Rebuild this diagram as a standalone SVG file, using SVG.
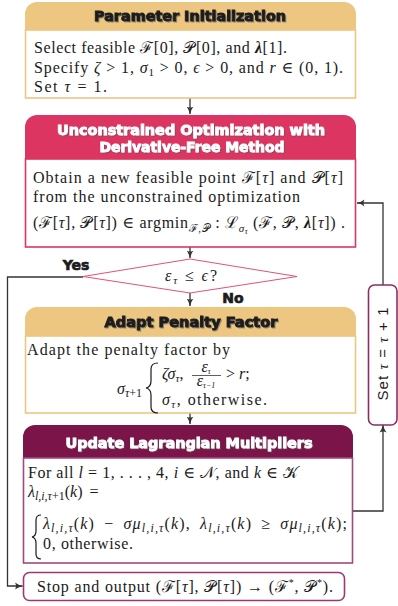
<svg xmlns="http://www.w3.org/2000/svg" width="398" height="606" viewBox="0 0 398 606">
<defs>
<style>
.title{font-family:"DejaVu Sans","Liberation Sans",sans-serif;font-weight:bold;font-size:14px;stroke-width:0.9px;text-anchor:middle}
.dk{fill:#1c1c1c;stroke:#1c1c1c}
.wt{fill:#ffffff;stroke:#ffffff}
.body{font-family:"Liberation Serif","DejaVu Serif",serif;font-size:16px;fill:#1a1a1a}
.it{font-style:italic}
.cal{font-style:normal}
.sub{font-size:11px}
.sub2{font-size:12px}
.conn{fill:none;stroke:#333333;stroke-width:1.3}
.lbl{font-family:"DejaVu Sans","Liberation Sans",sans-serif;font-weight:bold;font-size:14px;fill:#1c1c1c;stroke:#1c1c1c;stroke-width:0.7px}
.bodyrect{fill:#ffffff;stroke-width:1.6}
</style>
<filter id="sh" x="-5%" y="-30%" width="110%" height="160%">
<feDropShadow dx="1" dy="1" stdDeviation="0.6" flood-color="#555555" flood-opacity="0.6"/>
</filter>
<marker id="ah" viewBox="0 0 8 8" refX="7.5" refY="4" markerWidth="8" markerHeight="8" markerUnits="userSpaceOnUse" orient="auto">
<path d="M0,0.5 Q3,3 8,4 Q3,5 0,7.5 Q2,4 0,0.5 Z" fill="#333333"/>
</marker>
</defs>

<g id="connectors">
<path class="conn" d="M190 98 V114" marker-end="url(#ah)"/>
<path class="conn" d="M190 247 V258" marker-end="url(#ah)"/>
<path class="conn" d="M190 293 V306" marker-end="url(#ah)"/>
<path class="conn" d="M190 413 V424" marker-end="url(#ah)"/>
<path class="conn" d="M83 277 H7.5 V586 H22.5" marker-end="url(#ah)"/>
<path class="conn" d="M353 511 H383 V425" marker-end="url(#ah)"/>
<path class="conn" d="M383 285 V203 H357" marker-end="url(#ah)"/>
<text class="lbl" x="76" y="270" text-anchor="middle">Yes</text>
<text class="lbl" x="233" y="303" text-anchor="middle">No</text>
</g>

<g id="init">
<path d="M25 30 V14 A12 12 0 0 1 37 2 H344 A12 12 0 0 1 356 14 V30 Z" fill="#EDC682"/>
<rect class="bodyrect" x="25.5" y="30" width="330" height="68" stroke="#EDC682"/>
<text class="title dk" x="190" y="21" textLength="192" lengthAdjust="spacingAndGlyphs" filter="url(#sh)">Parameter Initialization</text>
<text class="body" x="34" y="53" textLength="253" lengthAdjust="spacing">Select feasible <tspan class="cal">ℱ</tspan>[0], <tspan class="cal">𝒫</tspan>[0], and <tspan font-weight="bold" class="it">λ</tspan>[1].</text>
<text class="body" x="34" y="73" textLength="309" lengthAdjust="spacing">Specify <tspan class="it">ζ</tspan> &gt; 1, <tspan class="it">σ</tspan><tspan class="sub" baseline-shift="-3">1</tspan> &gt; 0, <tspan class="it">ϵ</tspan> &gt; 0, and <tspan class="it">r</tspan> ∈ (0, 1).</text>
<text class="body" x="34" y="92" textLength="73" lengthAdjust="spacing">Set <tspan class="it">τ</tspan> = 1.</text>
</g>

<g id="unconstrained">
<path d="M25 159 V127 A12 12 0 0 1 37 115 H344 A12 12 0 0 1 356 127 V159 Z" fill="#DD3562"/>
<rect class="bodyrect" x="25.5" y="159" width="330" height="88" stroke="#DD3562"/>
<text class="title wt" x="191" y="135" textLength="268" lengthAdjust="spacingAndGlyphs" filter="url(#sh)">Unconstrained Optimization with</text>
<text class="title wt" x="192" y="152" textLength="185" lengthAdjust="spacingAndGlyphs" filter="url(#sh)">Derivative-Free Method</text>
<text class="body" x="33" y="183" textLength="310" lengthAdjust="spacing">Obtain a new feasible point <tspan class="cal">ℱ</tspan>[<tspan class="it">τ</tspan>] and <tspan class="cal">𝒫</tspan>[<tspan class="it">τ</tspan>]</text>
<text class="body" x="33" y="202" textLength="267" lengthAdjust="spacing">from the unconstrained optimization</text>
<text class="body" x="33" y="228" textLength="312" lengthAdjust="spacing">(<tspan class="cal">ℱ</tspan>[<tspan class="it">τ</tspan>], <tspan class="cal">𝒫</tspan>[<tspan class="it">τ</tspan>]) ∈ argmin<tspan class="sub cal" baseline-shift="-4">ℱ,𝒫</tspan> :  <tspan class="cal">ℒ</tspan><tspan class="sub it" baseline-shift="-4">σ</tspan><tspan font-size="8px" class="it" baseline-shift="-6">τ</tspan> (<tspan class="cal">ℱ</tspan>, <tspan class="cal">𝒫</tspan>, <tspan font-weight="bold" class="it">λ</tspan>[<tspan class="it">τ</tspan>]) .</text>
</g>

<g id="decision">
<polygon points="190,259 297,276.5 190,293 83,276.5" fill="#ffffff" stroke="#E3507A" stroke-width="1"/>
<text class="body" x="165" y="281" textLength="52" lengthAdjust="spacing"><tspan class="it">ε</tspan><tspan class="sub it" baseline-shift="-3">τ</tspan> ≤ <tspan class="it">ϵ</tspan>?</text>
</g>

<g id="penalty">
<path d="M25 336 V319 A12 12 0 0 1 37 307 H344 A12 12 0 0 1 356 319 V336 Z" fill="#EDC682"/>
<rect class="bodyrect" x="25.5" y="336" width="330" height="77" stroke="#EDC682"/>
<text class="title dk" x="191" y="327" textLength="173" lengthAdjust="spacingAndGlyphs" filter="url(#sh)">Adapt Penalty Factor</text>
<text class="body" x="27" y="355" textLength="203" lengthAdjust="spacing">Adapt the penalty factor by</text>
<text class="body" x="142" y="394" font-size="17px" text-anchor="end"><tspan class="it">σ</tspan><tspan class="sub2 it" baseline-shift="-3">τ</tspan><tspan class="sub2" baseline-shift="-3">+1</tspan></text>
<path d="M158 363 Q151 363 151 369 V381 Q151 387 146 388 Q151 389 151 395 V407 Q151 413 158 413" fill="none" stroke="#1a1a1a" stroke-width="1.2"/>
<text class="body" x="162" y="379"><tspan class="it">ζσ</tspan><tspan class="sub it" baseline-shift="-3">τ</tspan>,</text>
<text class="body" x="206" y="372" font-size="11px" text-anchor="middle"><tspan class="it">ε</tspan><tspan font-size="8px" class="it" baseline-shift="-2">τ</tspan></text>
<line x1="192" y1="375.5" x2="221" y2="375.5" stroke="#1a1a1a" stroke-width="0.7"/>
<text class="body" x="206" y="386" font-size="11px" text-anchor="middle"><tspan class="it">ε</tspan><tspan font-size="8px" class="it" baseline-shift="-2">τ−1</tspan></text>
<text class="body" x="226" y="379">&gt; <tspan class="it">r</tspan>;</text>
<text class="body" x="162" y="405" textLength="105" lengthAdjust="spacing"><tspan class="it">σ</tspan><tspan class="sub it" baseline-shift="-3">τ</tspan>,  otherwise.</text>
</g>

<g id="lagrangian">
<path d="M23 458 V437 A12 12 0 0 1 35 425 H341 A12 12 0 0 1 353 437 V458 Z" fill="#7B1549"/>
<rect class="bodyrect" x="23.5" y="458" width="329" height="105" stroke="#A04A7C"/>
<text class="title wt" x="189" y="448" textLength="247" lengthAdjust="spacingAndGlyphs" filter="url(#sh)">Update Lagrangian Multipliers</text>
<text class="body" x="28" y="478" textLength="270" lengthAdjust="spacing">For all <tspan class="it">l</tspan> = 1, . . . , 4, <tspan class="it">i</tspan> ∈ <tspan class="cal">𝒩</tspan>, and <tspan class="it">k</tspan> ∈ <tspan class="cal">𝒦</tspan></text>
<text class="body" x="28" y="497" font-size="18px" word-spacing="3px"><tspan class="it">λ</tspan><tspan class="sub2 it" baseline-shift="-3">l,i,τ</tspan><tspan class="sub2" baseline-shift="-3">+1</tspan>(<tspan class="it">k</tspan>) =</text>
<path d="M41 515 Q36 515 36 520 V531 Q36 536 32 537 Q36 538 36 543 V554 Q36 559 41 559" fill="none" stroke="#1a1a1a" stroke-width="1.2"/>
<text class="body" x="43" y="529" font-size="18px" word-spacing="4px" textLength="304" lengthAdjust="spacing"><tspan class="it">λ</tspan><tspan class="sub2 it" baseline-shift="-3">l,i,τ</tspan>(<tspan class="it">k</tspan>) − <tspan class="it">σμ</tspan><tspan class="sub2 it" baseline-shift="-3">l,i,τ</tspan>(<tspan class="it">k</tspan>),  <tspan class="it">λ</tspan><tspan class="sub2 it" baseline-shift="-3">l,i,τ</tspan>(<tspan class="it">k</tspan>) ≥ <tspan class="it">σμ</tspan><tspan class="sub2 it" baseline-shift="-3">l,i,τ</tspan>(<tspan class="it">k</tspan>);</text>
<text class="body" x="43" y="549" textLength="90" lengthAdjust="spacing">0,  otherwise.</text>
</g>

<g id="stop">
<rect x="23.5" y="572.5" width="321" height="28" rx="6" fill="#ffffff" stroke="#9A3A70" stroke-width="1.6"/>
<text class="body" x="37" y="592" textLength="296" lengthAdjust="spacing">Stop and output (<tspan class="cal">ℱ</tspan>[<tspan class="it">τ</tspan>], <tspan class="cal">𝒫</tspan>[<tspan class="it">τ</tspan>]) → (<tspan class="cal">ℱ</tspan><tspan font-size="10px" baseline-shift="6">*</tspan>, <tspan class="cal">𝒫</tspan><tspan font-size="10px" baseline-shift="6">*</tspan>).</text>
</g>

<g id="increment">
<rect x="368.5" y="285" width="28.5" height="140" rx="6" fill="#ffffff" stroke="#8C2E62" stroke-width="1.6"/>
<text transform="translate(388,354) rotate(-90)" x="0" y="0" text-anchor="middle" font-family="Liberation Sans, DejaVu Sans, sans-serif" font-size="15px" fill="#1a1a1a" textLength="93" lengthAdjust="spacing">Set <tspan font-family="Liberation Serif, serif" font-style="italic">τ</tspan> = <tspan font-family="Liberation Serif, serif" font-style="italic">τ</tspan> + 1</text>
</g>
</svg>
